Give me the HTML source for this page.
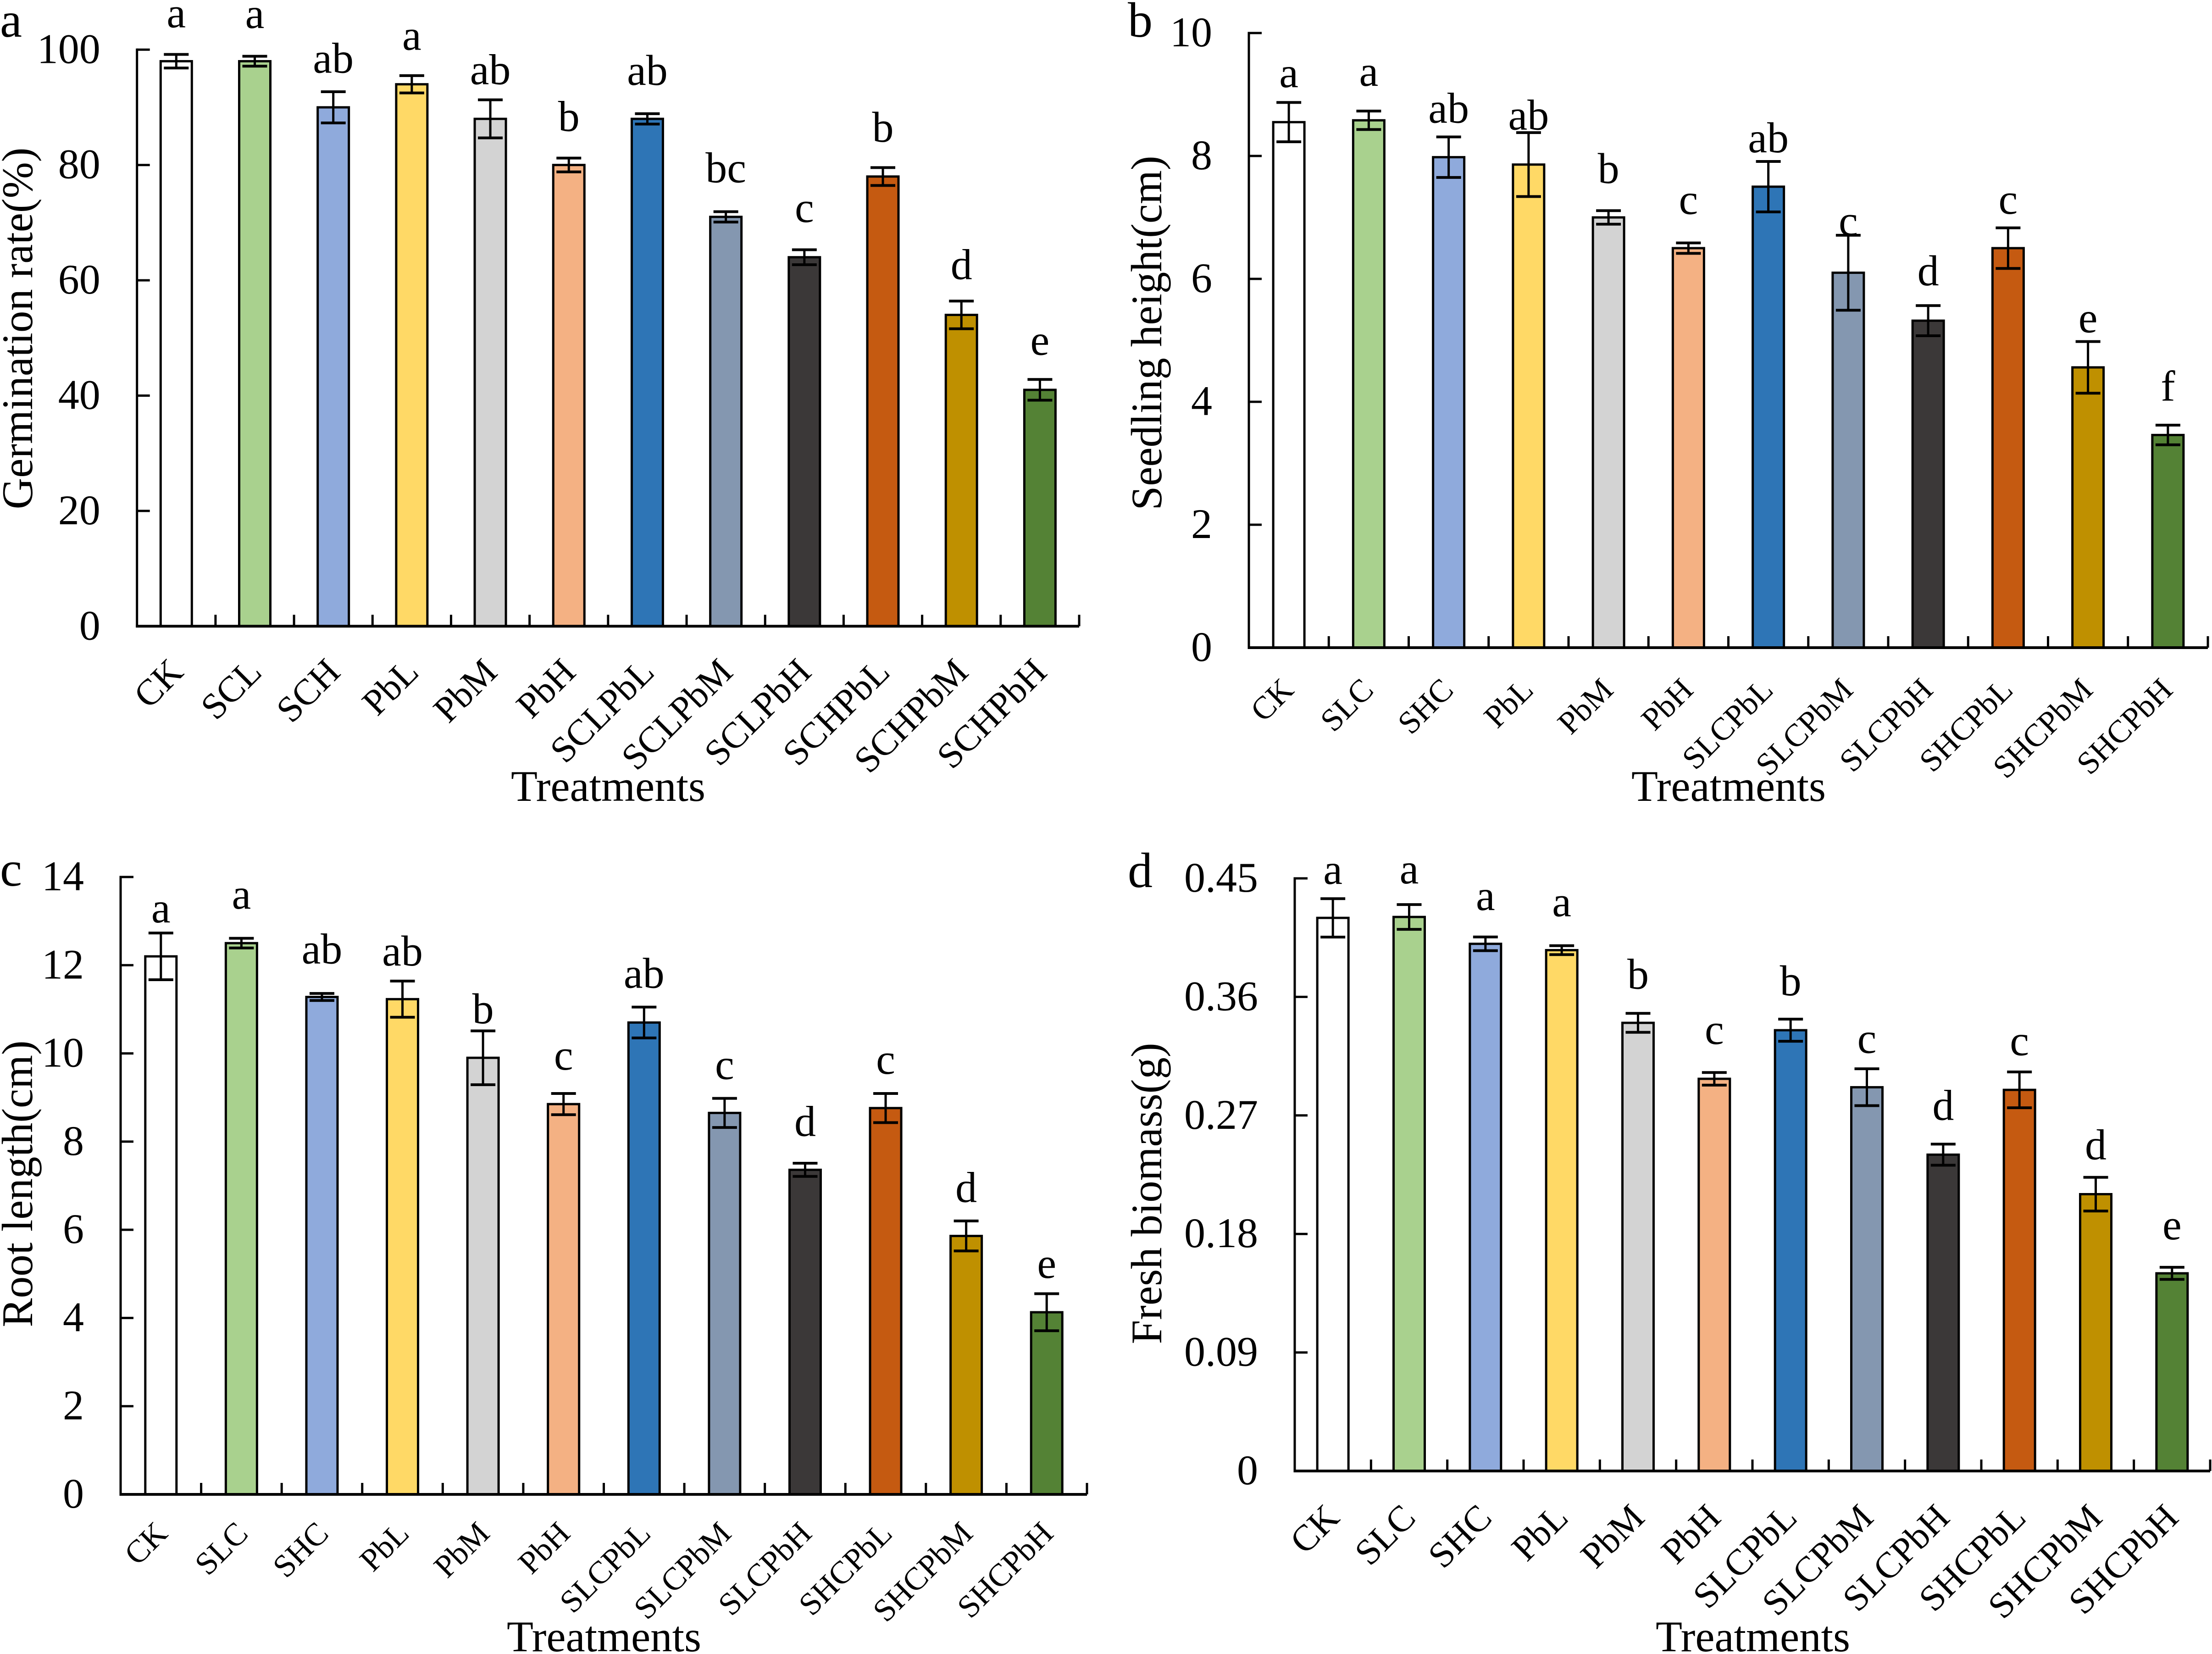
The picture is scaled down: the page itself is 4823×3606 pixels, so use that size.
<!DOCTYPE html>
<html lang="en">
<head>
<meta charset="utf-8">
<title>Germination and seedling growth by treatment</title>
<style>
html,body{margin:0;padding:0;background:#fff;}
svg{display:block;}
text{font-family:"Liberation Serif","Times New Roman",serif;fill:#000;}
</style>
</head>
<body>
<svg id="figure" xmlns="http://www.w3.org/2000/svg" width="4823" height="3606" viewBox="0 0 4823 3606"></svg>
<script>
const barColors = ["#FFFFFF","#A9D18E","#8FAADC","#FFD966","#D3D3D3","#F4B183","#2E75B6","#8497B0","#3B3838","#C55A11","#BF9000","#548235"];

const catsA = ["CK","SCL","SCH","PbL","PbM","PbH","SCLPbL","SCLPbM","SCLPbH","SCHPbL","SCHPbM","SCHPbH"];
const valuesA = [98,98,90,94,88,80,88,71,64,78,54,41];
const errorsA = [1.18,0.86,2.7,1.5,3.3,1.2,0.9,0.9,1.3,1.55,2.4,1.8];
const sigA = ["a","a","ab","a","ab","b","ab","bc","c","b","d","e"];
const sigLiftA = [4.7,4.9,3.3,4.5,2.7,4.7,5.0,5.1,4.8,4.5,3.8,4.3];
const ticksA = ["0","20","40","60","80","100"];

const catsB = ["CK","SLC","SHC","PbL","PbM","PbH","SLCPbL","SLCPbM","SLCPbH","SHCPbL","SHCPbM","SHCPbH"];
const valuesB = [8.55,8.58,7.98,7.86,7.0,6.5,7.5,6.1,5.32,6.5,4.56,3.46];
const errorsB = [0.32,0.15,0.33,0.52,0.11,0.085,0.41,0.61,0.245,0.33,0.42,0.16];
const sigB = ["a","a","ab","ab","b","c","ab","c","d","c","e","f"];
const sigLiftB = [0.25,0.41,0.23,0.05,0.45,0.47,0.15,0,0.33,0.23,0.15,0.40];
const ticksB = ["0","2","4","6","8","10"];

const catsC = ["CK","SLC","SHC","PbL","PbM","PbH","SLCPbL","SLCPbM","SLCPbH","SHCPbL","SHCPbM","SHCPbH"];
const valuesC = [12.2,12.5,11.28,11.23,9.9,8.85,10.7,8.65,7.36,8.76,5.86,4.13];
const errorsC = [0.53,0.11,0.08,0.41,0.61,0.24,0.35,0.33,0.15,0.33,0.34,0.42];
const sigC = ["a","a","ab","ab","b","c","ab","c","d","c","d","e"];
const sigLiftC = [0.24,0.67,0.68,0.35,0.17,0.54,0.44,0.44,0.62,0.45,0.43,0.36];
const ticksC = ["0","2","4","6","8","10","12","14"];

const catsD = ["CK","SLC","SHC","PbL","PbM","PbH","SLCPbL","SLCPbM","SLCPbH","SHCPbL","SHCPbM","SHCPbH"];
const valuesD = [0.42,0.4207,0.4003,0.3955,0.3403,0.2978,0.3347,0.2914,0.2402,0.2894,0.2102,0.1501];
const errorsD = [0.0146,0.0094,0.0052,0.0034,0.0072,0.0048,0.0084,0.014,0.008,0.0136,0.0128,0.0046];
const sigD = ["a","a","a","a","b","c","b","c","d","c","d","e"];
const sigLiftD = [0.0112,0.016,0.0204,0.0224,0.0188,0.0216,0.018,0.012,0.0184,0.0128,0.0136,0.0212];
const ticksD = ["0","0.09","0.18","0.27","0.36","0.45"];

const svg = document.getElementById("figure");
const NS = "http://www.w3.org/2000/svg";

function make(parent, tag, attrs, content) {
  const el = document.createElementNS(NS, tag);
  for (const k in attrs) el.setAttribute(k, attrs[k]);
  if (content !== undefined) el.textContent = content;
  parent.appendChild(el);
  return el;
}

function drawPanel(p) {
  const g = make(svg, "g", {});
  
  

  const maxTick = parseFloat(p.ticks[p.ticks.length - 1]);
  const yScale = v => p.bottom - (v / maxTick) * (p.bottom - p.top);
  const step = (p.right - p.left) / p.cats.length;
  const xScale = i => p.left + (i + 0.5) * step;

  const panelLetter = make(g, "text", {x: p.letterX, y: p.letterY, "font-size": 108}, p.id);
  
  

  p.cats.forEach((cat, i) => {
    const cx = xScale(i);
    const top = yScale(p.values[i]);
    const bar = make(g, "rect", {x: cx - 34, y: top, width: 68, height: p.bottom - top, fill: barColors[i], stroke: "#000", "stroke-width": 5});
    
    
  });

  const yAxis = make(g, "line", {x1: p.left, x2: p.left, y1: p.top - 2.5, y2: p.bottom + 2.5, stroke: "#000", "stroke-width": 5});
  
  
  const xAxis = make(g, "line", {x1: p.left - 2.5, x2: p.right, y1: p.bottom, y2: p.bottom, stroke: "#000", "stroke-width": 6});
  
  

  p.ticks.forEach(t => {
    const y = yScale(parseFloat(t));
    const tick = make(g, "line", {x1: p.left, x2: p.left + 28, y1: y, y2: y, stroke: "#000", "stroke-width": 5});
    
    
    const label = make(g, "text", {x: p.left - 80, y: y + 29, "font-size": 92, "text-anchor": "end"}, t);
    
    
  });

  for (let i = 1; i <= p.cats.length; i++) {
    const x = p.left + i * step;
    const tick = make(g, "line", {x1: x, x2: x, y1: p.bottom - 25, y2: p.bottom, stroke: "#000", "stroke-width": 5});
    
    
  }

  p.cats.forEach((cat, i) => {
    const cx = xScale(i);
    const hi = yScale(p.values[i] + p.errors[i]);
    const lo = yScale(p.values[i] - p.errors[i]);
    const stem = make(g, "line", {x1: cx, x2: cx, y1: hi, y2: lo, stroke: "#000", "stroke-width": 5});
    
    
    const capTop = make(g, "line", {x1: cx - 27, x2: cx + 27, y1: hi, y2: hi, stroke: "#000", "stroke-width": 6});
    
    
    const capBottom = make(g, "line", {x1: cx - 27, x2: cx + 27, y1: lo, y2: lo, stroke: "#000", "stroke-width": 6});
    
    

    const sig = make(g, "text", {x: cx, y: yScale(p.values[i] + p.errors[i] + p.sigLift[i]), "font-size": 94, "text-anchor": "middle"}, p.sig[i]);
    
    

    const catX = cx + p.catDx;
    const catY = p.bottom + p.catDy;
    const catLabel = make(g, "text", {x: catX, y: catY, "font-size": p.catFont, "text-anchor": "end", transform: "rotate(-45 " + catX + " " + catY + ")"}, cat);
    
    
  });

  const yTitle = make(g, "text", {x: p.titleX, y: p.titleY, "font-size": 95, "text-anchor": "middle", transform: "rotate(-90 " + p.titleX + " " + p.titleY + ")"}, p.yTitle);
  
  

  const xTitle = make(g, "text", {x: p.xTitleX, y: p.xTitleY, "font-size": 95, "text-anchor": "middle"}, "Treatments");
  
  
}

drawPanel({id:"a", left:298.7, right:2353, top:108.3, bottom:1365.3, cats:catsA, values:valuesA, errors:errorsA, sig:sigA, sigLift:sigLiftA, ticks:ticksA, yTitle:"Germination rate(%)", letterX:0, letterY:80, titleX:70, titleY:716, xTitleX:1326, xTitleY:1746, catFont:80, catDx:19, catDy:104});
drawPanel({id:"b", left:2723, right:4814, top:72, bottom:1412, cats:catsB, values:valuesB, errors:errorsB, sig:sigB, sigLift:sigLiftB, ticks:ticksB, yTitle:"Seedling height(cm)", letterX:2459, letterY:80, titleX:2532, titleY:726, xTitleX:3769, xTitleY:1746, catFont:70, catDx:14, catDy:96});
drawPanel({id:"c", left:263, right:2370, top:1912, bottom:3258, cats:catsC, values:valuesC, errors:errorsC, sig:sigC, sigLift:sigLiftC, ticks:ticksC, yTitle:"Root length(cm)", letterX:0, letterY:1931, titleX:70, titleY:2581, xTitleX:1317, xTitleY:3600, catFont:70, catDx:18, catDy:89});
drawPanel({id:"d", left:2823, right:4819, top:1915, bottom:3207, cats:catsD, values:valuesD, errors:errorsD, sig:sigD, sigLift:sigLiftD, ticks:ticksD, yTitle:"Fresh biomass(g)", letterX:2459, letterY:1934, titleX:2532, titleY:2602, xTitleX:3822, xTitleY:3600, catFont:80, catDx:18, catDy:106});
</script>
</body>
</html>
